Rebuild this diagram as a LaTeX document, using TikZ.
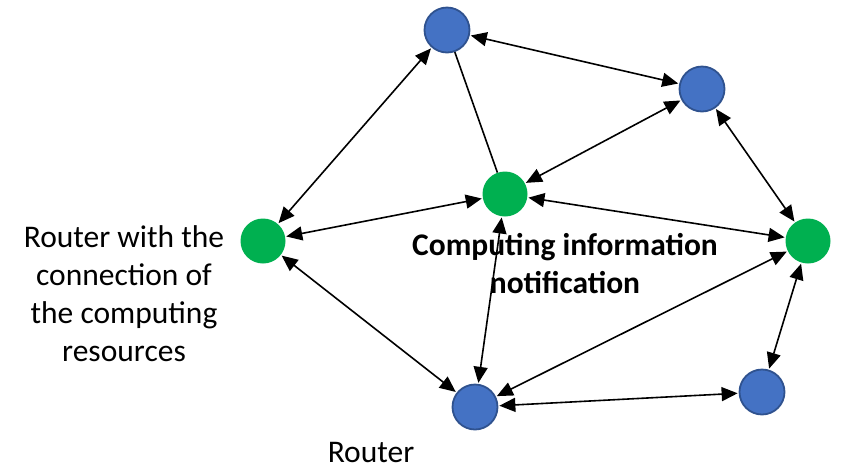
\documentclass[tikz,border=0pt]{standalone}
\usepackage{fontspec}
\setmainfont{Carlito}
\usetikzlibrary{arrows.meta}
\definecolor{rblue}{HTML}{4472C4}
\definecolor{rblueb}{HTML}{2F528F}
\definecolor{rgreen}{HTML}{00B050}
\begin{document}
\begin{tikzpicture}[x=1pt,y=-1pt,
  router/.style={circle,minimum size=45pt,inner sep=0pt,fill=rblue,draw=rblueb,line width=1.8pt},
  crouter/.style={circle,minimum size=45pt,inner sep=0pt,fill=rgreen},
  link/.style={line width=1.6pt,{Triangle[length=16pt,width=14pt]}-{Triangle[length=16pt,width=14pt]},shorten <=1pt,shorten >=1pt},
  plain/.style={line width=1.6pt},
  lbl/.style={font=\fontsize{31.5}{38}\selectfont,align=center,inner sep=0pt}]
\useasboundingbox (0,0) rectangle (844,467);
\node[router] (t) at (447,30) {};
\node[router] (rt) at (702,89) {};
\node[crouter] (gl) at (263,241) {};
\node[crouter] (gc) at (505,194) {};
\node[crouter] (gr) at (808,241) {};
\node[router] (b) at (475,407) {};
\node[router] (br) at (762,392) {};
\draw[link] (t) -- (gl);
\draw[plain] (t) -- (gc);
\draw[link] (t) -- (rt);
\draw[link] (rt) -- (gc);
\draw[link] (rt) -- (gr);
\draw[link] (gc) -- (gl);
\draw[link] (gc) -- (gr);
\draw[link] (gc) -- (b);
\draw[link] (gl) -- (b);
\draw[link] (b) -- (gr);
\draw[link] (b) -- (br);
\draw[link] (br) -- (gr);
\node[lbl] (l1) at (124,294) {Router with the\\connection of\\the computing\\resources};
\node[lbl,font=\fontsize{31.5}{38}\selectfont\bfseries] (l2) at (565,264) {Computing information\\notification};
\node[lbl,anchor=base] (l3) at (371,462) {Router};
\end{tikzpicture}
\end{document}
